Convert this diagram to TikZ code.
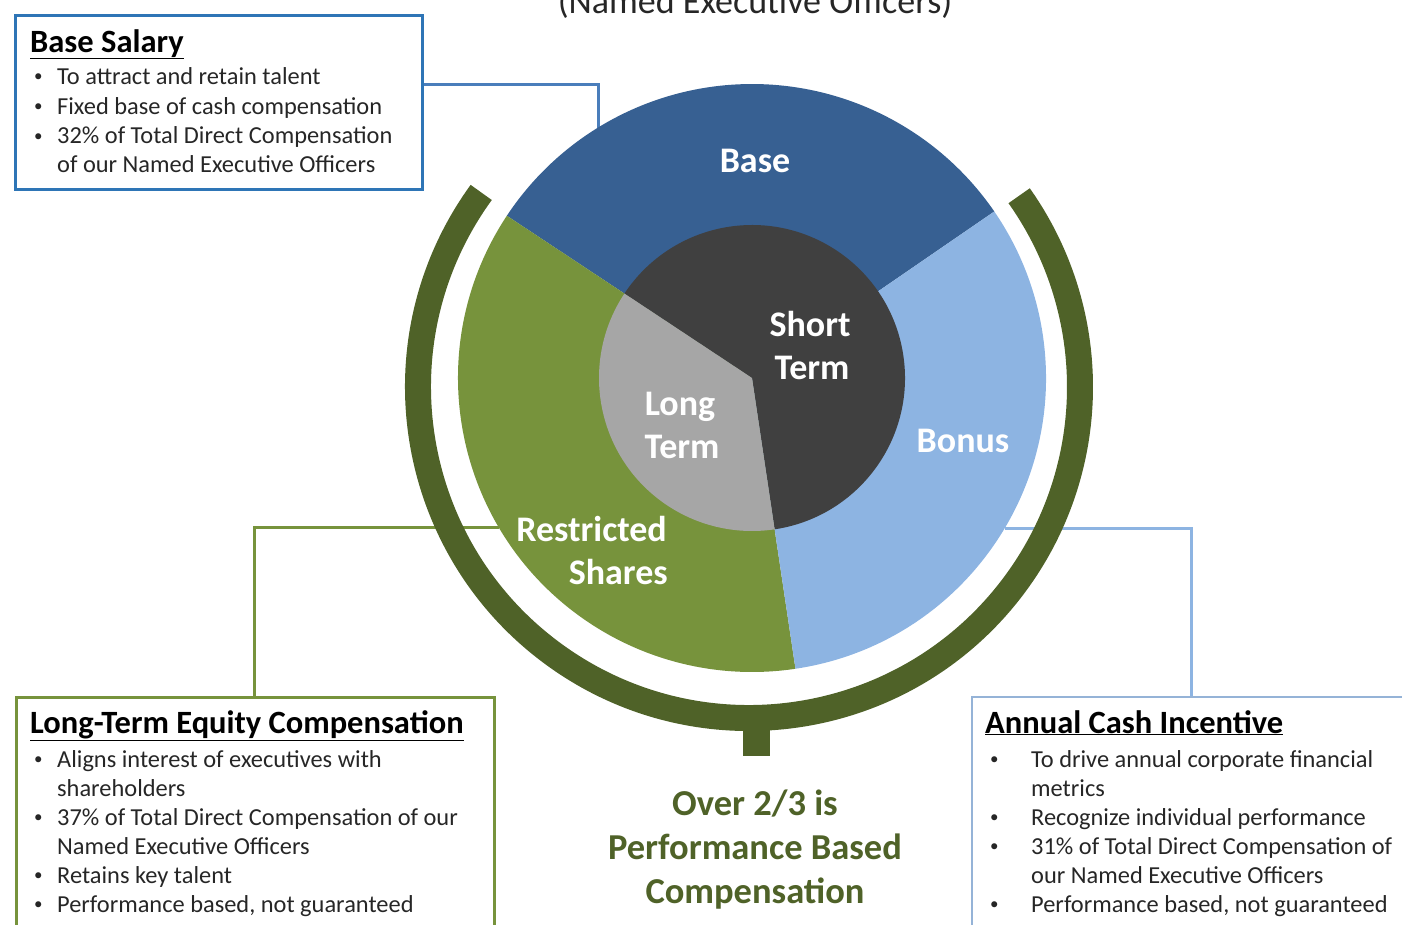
\documentclass[tikz,border=0pt]{standalone}
\usepackage{fontspec}
\setmainfont{Carlito}
\definecolor{cBase}{HTML}{376092}
\definecolor{cBonus}{HTML}{8DB4E2}
\definecolor{cRest}{HTML}{77933C}
\definecolor{cShort}{HTML}{404040}
\definecolor{cLong}{HTML}{A6A6A6}
\definecolor{cRing}{HTML}{4F6228}
\definecolor{cBoxB}{HTML}{2E75B6}
\definecolor{cLineB}{HTML}{4A7EBB}
\definecolor{cBoxA}{HTML}{95B3D7}
\definecolor{cTxt}{HTML}{262626}
\newcommand\smallbul{{\fontsize{17}{17}\selectfont\raisebox{2.2pt}{\textbullet}}}
\begin{document}
\begin{tikzpicture}[x=1pt,y=-1pt,
  every node/.style={inner sep=0pt},
  body/.style={font=\fontsize{24.4}{29}\selectfont, text=cTxt, anchor=base west},
  head/.style={font=\fontsize{32.5}{38}\selectfont\bfseries, text=black, anchor=base west},
  pielab/.style={font=\fontsize{36}{43}\selectfont\bfseries, text=white, anchor=base},
  perf/.style={font=\fontsize{36.5}{44}\selectfont\bfseries, text=cRing, anchor=base},
  infobox/.style={draw, line width=3pt, anchor=north west},
  conn/.style={line width=3pt}]
\useasboundingbox (0,0) rectangle (1402,924);
% title (cut at top)
\node[font=\fontsize{36}{43}\selectfont, text=cTxt, anchor=base] (title) at (755,13) {(Named Executive Officers)};
% pie edge coordinates
\coordinate (pieB) at (598,128);
\coordinate (pieL) at (499,527);
\coordinate (pieA) at (1005,528);
% boxes
\node[infobox, draw=cBoxB, minimum width=407pt, minimum height=174pt] (bsbox) at (13.5,13.5) {};
\node[infobox, draw=cRest, minimum width=478pt, minimum height=260pt] (ltbox) at (14.5,695.5) {};
\node[infobox, draw=cBoxA, line width=2.5pt, minimum width=460pt, minimum height=260pt] (acbox) at (970.5,695.5) {};
% connectors
\draw[conn, cLineB] ([yshift=-71pt]bsbox.north east) -| (pieB);
\draw[conn, cRest] ([xshift=240pt]ltbox.north west) |- (pieL);
\draw[conn, cBonus] ([xshift=221pt]acbox.north west) |- (pieA);
% pie
\begin{scope}[shift={(752,378)}, x=1pt, y=1pt]
  \fill[cBase] (0,0) -- (34.5:294) arc[start angle=34.5, end angle=146.5, radius=294] -- cycle;
  \fill[cRest] (0,0) -- (146.5:294) arc[start angle=146.5, end angle=278.5, radius=294] -- cycle;
  \fill[cBonus] (0,0) -- (278.5:294) arc[start angle=278.5, end angle=394.5, radius=294] -- cycle;
  \fill[cShort] (0,0) -- (-81.5:153) arc[start angle=-81.5, end angle=146.5, radius=153] -- cycle;
  \fill[cLong] (0,0) -- (146.5:153) arc[start angle=146.5, end angle=278.5, radius=153] -- cycle;
\end{scope}
% ring and stem
\begin{scope}[shift={(749,387)}, x=1pt, y=1pt]
  \draw[cRing, line width=26pt] (144:331) arc[start angle=144, end angle=395.3, radius=331];
  \fill[cRing] (-6,-335) rectangle (21,-369);
\end{scope}
% pie labels
\node[pielab] (lbase) at (755,172.5) {Base};
\node[pielab] (lshort1) at (810,336.5) {Short};
\node[pielab] (lshort2) at (812,379.5) {Term};
\node[pielab] (llong1) at (680,415.5) {Long};
\node[pielab] (llong2) at (682,458.5) {Term};
\node[pielab] (lbonus) at (963,452.5) {Bonus};
\node[pielab, anchor=base east] (lrest1) at (667,541.5) {Restricted};
\node[pielab, anchor=base east] (lrest2) at (668,584.5) {Shares};
% performance text
\node[perf] (perf1) at (755,815) {Over 2/3 is};
\node[perf] (perf2) at (755,859) {Performance Based};
\node[perf] (perf3) at (755,903) {Compensation};
% base salary text
\node[head] (bshead) at (30,52) {\underline{Base Salary}};
\node[body] (bsb1) at (34,84) {\smallbul};
\node[body] (bst1) at (57,84) {To attract and retain talent};
\node[body] (bsb2) at (34,114) {\smallbul};
\node[body] (bst2) at (57,114) {Fixed base of cash compensation};
\node[body] (bsb3) at (34,143.5) {\smallbul};
\node[body] (bst3) at (57,143.5) {32\% of Total Direct Compensation};
\node[body] (bst4) at (57,172) {of our Named Executive Officers};
% long-term text
\node[head] (lthead) at (30,733) {\underline{Long-Term Equity Compensation}};
\node[body] (ltb1) at (34,767) {\smallbul};
\node[body] (ltt1) at (57,767) {Aligns interest of executives with};
\node[body] (ltt2) at (57,796) {shareholders};
\node[body] (ltb3) at (34,825) {\smallbul};
\node[body] (ltt3) at (57,825) {37\% of Total Direct Compensation of our};
\node[body] (ltt4) at (57,854) {Named Executive Officers};
\node[body] (ltb5) at (34,883) {\smallbul};
\node[body] (ltt5) at (57,883) {Retains key talent};
\node[body] (ltb6) at (34,912) {\smallbul};
\node[body] (ltt6) at (57,912) {Performance based, not guaranteed};
% annual cash text
\node[head] (achead) at (985,733) {\underline{Annual Cash Incentive}};
\node[body] (acb1) at (990,767) {\smallbul};
\node[body] (act1) at (1031,767) {To drive annual corporate financial};
\node[body] (act2) at (1031,796) {metrics};
\node[body] (acb3) at (990,825) {\smallbul};
\node[body] (act3) at (1031,825) {Recognize individual performance};
\node[body] (acb4) at (990,854) {\smallbul};
\node[body] (act4) at (1031,854) {31\% of Total Direct Compensation of};
\node[body] (act5) at (1031,883) {our Named Executive Officers};
\node[body] (acb6) at (990,912) {\smallbul};
\node[body] (act6) at (1031,912) {Performance based, not guaranteed};
\end{tikzpicture}
\end{document}
